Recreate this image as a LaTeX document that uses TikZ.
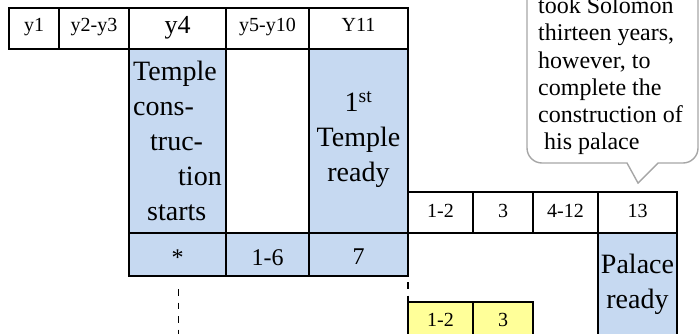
\documentclass[tikz,border=0pt]{standalone}
\usepackage{fontspec}
\setmainfont{Liberation Serif}
\definecolor{cellblue}{HTML}{C6D9F1}
\definecolor{cellyellow}{HTML}{FFFF99}
\definecolor{calloutgray}{HTML}{A6A6A6}
\begin{document}
\begin{tikzpicture}[x=1pt,y=-1pt,
  cell/.style={draw=black, line width=1.4pt, anchor=north west, inner sep=0pt, outer sep=0pt},
  bluecell/.style={cell, fill=cellblue},
  yellowcell/.style={cell, fill=cellyellow},
  lbl/.style={anchor=base, inner sep=0pt, font=\fontsize{20}{24}\selectfont},
  biglbl/.style={inner sep=0pt, font=\fontsize{28}{35}\selectfont},
  numlbl/.style={anchor=base, inner sep=0pt, font=\fontsize{24}{28}\selectfont},
  dashline/.style={draw=black, line width=1.5pt, dash pattern=on 6.5pt off 7pt},
  callout/.style={draw=calloutgray, line width=1.4pt, fill=white}
]
\useasboundingbox (0,0) rectangle (700,333);
\clip (0,0) rectangle (700,333);

% top row
\node[cell, minimum width=50pt, minimum height=41pt] (y1) at (9,8) {};
\node[cell, minimum width=70pt, minimum height=41pt] (y23) at (59,8) {};
\node[cell, minimum width=97pt, minimum height=41pt] (y4) at (129,8) {};
\node[cell, minimum width=83pt, minimum height=41pt] (y510) at (226,8) {};
\node[cell, minimum width=99pt, minimum height=41pt] (y11) at (309,8) {};
\node[lbl] (ty1) at (34,31) {y1};
\node[lbl] (ty23) at (94,31) {y2-y3};
\node[lbl, font=\fontsize{26}{30}\selectfont] (ty4) at (177.5,33) {y4};
\node[lbl] (ty510) at (267.5,31) {y5-y10};
\node[lbl] (ty11) at (358.5,31) {Y11};

% tall blue columns
\node[bluecell, minimum width=97pt, minimum height=184pt] (tcol) at (129,49) {};
\node[bluecell, minimum width=99pt, minimum height=184pt] (fcol) at (309,49) {};
\node[biglbl, anchor=north west, align=left] (ttext) at (133,61)
  {Temple\\cons-\\\hspace*{17pt}truc-\\\hspace*{45pt}tion\\\hspace*{14pt}starts};
\node[biglbl, anchor=north, align=center] (ftext) at (358.5,91)
  {1\textsuperscript{st}\\Temple\\ready};

% number row under columns
\node[bluecell, minimum width=97pt, minimum height=43pt] (star) at (129,233) {};
\node[bluecell, minimum width=83pt, minimum height=43pt] (one6) at (226,233) {};
\node[bluecell, minimum width=99pt, minimum height=43pt] (seven) at (309,233) {};
\node[numlbl] (tstar) at (177.5,265) {*};
\node[numlbl] (tone6) at (267.5,265) {1-6};
\node[numlbl] (tseven) at (358.5,264) {7};

% palace row
\node[cell, minimum width=65pt, minimum height=41pt] (m12) at (408,192) {};
\node[cell, minimum width=60pt, minimum height=41pt] (m3) at (473,192) {};
\node[cell, minimum width=65pt, minimum height=41pt] (m412) at (533,192) {};
\node[cell, minimum width=79pt, minimum height=41pt] (m13) at (598,192) {};
\node[lbl] (tm12) at (440.5,217) {1-2};
\node[lbl] (tm3) at (503,217) {3};
\node[lbl] (tm412) at (565.5,217) {4-12};
\node[lbl] (tm13) at (637.5,217) {13};
\node[bluecell, minimum width=79pt, minimum height=130pt] (palace) at (598,233) {};
\node[biglbl, anchor=north, align=center] (ptext) at (637.5,254) {Palace\\ready};

% yellow row
\node[yellowcell, minimum width=65pt, minimum height=50pt] (yel12) at (408,302) {};
\node[yellowcell, minimum width=60pt, minimum height=50pt] (yel3) at (473,302) {};
\node[lbl] (tyel12) at (440.5,326) {1-2};
\node[lbl] (tyel3) at (503,326) {3};

% dashed connectors
\coordinate (dashend) at (178.5,350);
\draw[dashline] ([xshift=1pt,yshift=-13pt]star.south) -- (dashend);
\draw[dashline, dash phase=7.5pt] (seven.south east) -- (yel12.north west);

% callout
\draw[callout] (638,183) -- (627,163) [rounded corners=15pt] -- (527,163) -- (527,-40)
  -- (698,-40) -- (698,163) [sharp corners] -- (658,163) -- cycle;
\node[anchor=south west, align=left, inner sep=0pt, font=\fontsize{24}{27.2}\selectfont]
  (calltext) at (538,155)
  {took Solomon\\thirteen years,\\however, to\\complete the\\construction of\\\hspace*{6pt}his palace};
\end{tikzpicture}
\end{document}
